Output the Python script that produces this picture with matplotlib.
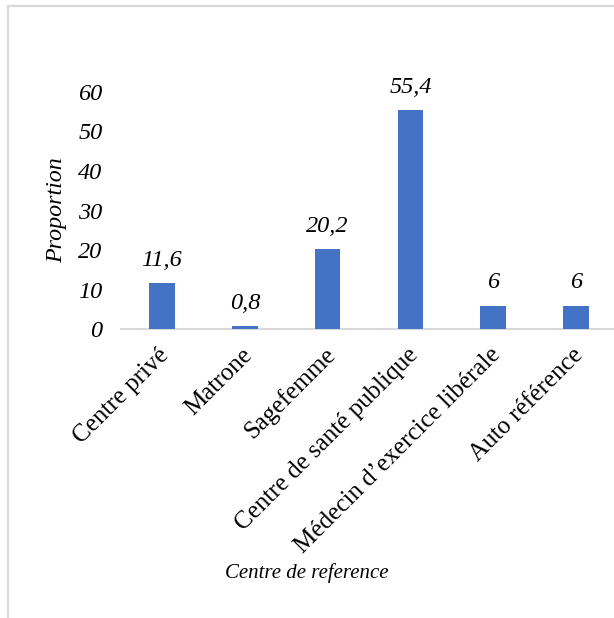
import matplotlib
matplotlib.use("Agg")
import matplotlib.pyplot as plt
from matplotlib.lines import Line2D
from matplotlib.transforms import ScaledTranslation

plt.rcParams['font.family'] = ['Liberation Serif', 'DejaVu Serif']

categories = ["Centre privé", "Matrone", "Sagefemme", "Centre de santé publique",
              "Médecin d’exercice libérale", "Auto référence"]
values = [11.6, 0.8, 20.2, 55.4, 6, 6]
y_ticks = [0, 10, 20, 30, 40, 50, 60]

W, H = 614, 618
fig = plt.figure(figsize=(W / 100, H / 100), dpi=100)
fig.patch.set_facecolor("white")

# chart frame (top and left edges visible)
frame_col = "#d9d9d9"
fig.add_artist(Line2D([7.5 / W, 1.0], [1 - 5.5 / H, 1 - 5.5 / H],
                      transform=fig.transFigure, color=frame_col, lw=1.6))
fig.add_artist(Line2D([7.5 / W, 7.5 / W], [0, 1 - 5.5 / H],
                      transform=fig.transFigure, color=frame_col, lw=1.6))

left_px, right_px = 120.5, 617.5
base_px, top_px = 329.3, 91.8
ax = fig.add_axes([left_px / W, 1 - base_px / H,
                   (right_px - left_px) / W, (base_px - top_px) / H])

x = list(range(len(categories)))
ax.bar(x, values, width=0.31, color="#4472C4", zorder=3)
ax.set_xlim(-0.5, len(categories) - 0.5)
ax.set_ylim(0, 60)

for s in ["top", "right", "left"]:
    ax.spines[s].set_visible(False)
ax.spines["bottom"].set_color(frame_col)
ax.spines["bottom"].set_linewidth(1.5)
ax.spines["bottom"].set_clip_on(False)

ax.set_yticks(y_ticks)
ax.set_yticklabels([str(t) for t in y_ticks], fontsize=17.5, fontstyle="italic")
ax.tick_params(axis="y", length=0, pad=13)

ax.set_xticks(x)
ax.set_xticklabels(categories, rotation=45, ha="right", va="center",
                   rotation_mode="anchor", fontsize=18)
ax.tick_params(axis="x", length=0, pad=16)
offset = ScaledTranslation(4 / 100, 0, fig.dpi_scale_trans)
for lab in ax.get_xticklabels():
    lab.set_transform(lab.get_transform() + offset)

for xi, v in zip(x, values):
    txt = f"{v:g}".replace(".", ",")
    ax.annotate(txt, (xi, v), xytext=(0, 16.5), textcoords="offset points",
                ha="center", va="center", fontsize=17.5, fontstyle="italic",
                annotation_clip=False)

fig.text(57 / W, 1 - 210 / H, "Proportion", rotation=90, ha="center",
         va="center", fontsize=17.3, fontstyle="italic")
fig.text(307 / W, 1 - 573 / H, "Centre de reference", ha="center",
         va="center", fontsize=15, fontstyle="italic")

fig.savefig("out.png", dpi=100, facecolor="white")
